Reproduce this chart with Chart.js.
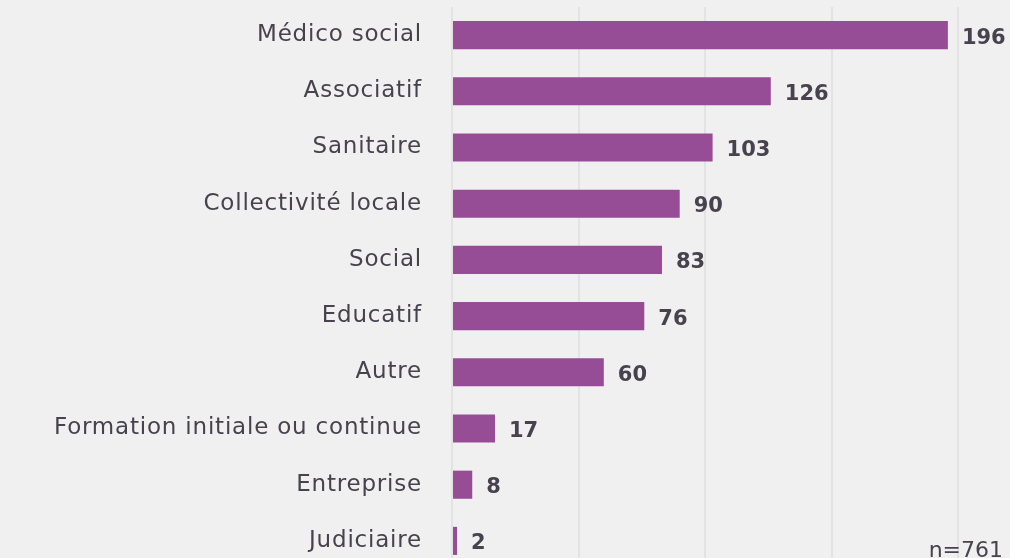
<!DOCTYPE html>
<html>
<head>
<meta charset="utf-8">
<script src="https://cdn.jsdelivr.net/npm/chart.js@4"></script>
<style>
  html, body { margin: 0; padding: 0; background: #f0f0f0; overflow: hidden; }
  #wrap { width: 1010px; height: 558px; overflow: hidden; }
</style>
</head>
<body>
<div id="wrap"><canvas id="chart" width="1010" height="570"></canvas></div>
<script>
// secteurs d'activité
const categories = [
    'Médico social', 'Associatif', 'Sanitaire', 'Collectivité locale', 'Social',
    'Educatif', 'Autre', 'Formation initiale ou continue', 'Entreprise', 'Judiciaire'
];
const counts = [196, 126, 103, 90, 83, 76, 60, 17, 8, 2];
const totalLabel = 'n=761';

const textColor = '#48424f';
const fontFamily = '"DejaVu Sans", sans-serif';

// police de référence plus large : on espace un peu les lettres
const spacing = {
    id: 'spacing',
    beforeDraw: (chart) => { chart.ctx.letterSpacing = '0.8px'; }
};

const valueLabels = {
    id: 'valueLabels',
    afterDatasetsDraw: (chart) => {
        const ctx = chart.ctx;
        const meta = chart.getDatasetMeta(0);
        ctx.save();
        ctx.letterSpacing = '0px';
        ctx.fillStyle = textColor;
        ctx.font = 'bold 21px ' + fontFamily;
        ctx.textAlign = 'left';
        ctx.textBaseline = 'middle';
        meta.data.forEach((bar, i) => {
            ctx.fillText(String(counts[i]), bar.x + 14, bar.y + 3);
        });
        // effectif total en bas à droite
        ctx.font = '22px ' + fontFamily;
        ctx.textAlign = 'right';
        ctx.textBaseline = 'alphabetic';
        ctx.fillText(totalLabel, 1003, 557);
        ctx.restore();
    }
};

const ctx = document.getElementById('chart').getContext('2d');
new Chart(ctx, {
    type: 'bar',
    data: {
        labels: categories,
        datasets: [{
            data: counts,
            backgroundColor: '#974c96',
            barPercentage: 0.5,
            categoryPercentage: 1
        }]
    },
    options: {
        indexAxis: 'y',
        responsive: false,
        animation: false,
        layout: { padding: { top: 7, right: 52, bottom: 1, left: 0 } },
        plugins: {
            legend: { display: false },
            tooltip: { enabled: false }
        },
        scales: {
            x: {
                min: 0,
                max: 200,
                ticks: { display: false, stepSize: 50 },
                border: { display: false },
                grid: { color: '#e2e2e7', lineWidth: 2, drawTicks: false },
                afterFit: s => { s.height = 0; s.paddingLeft = 0; s.paddingRight = 0; }
            },
            y: {
                ticks: {
                    color: textColor,
                    font: { family: fontFamily, size: 23 },
                    padding: 30
                },
                border: { display: false },
                grid: { display: false, drawTicks: false },
                afterFit: s => { s.width = 452; s.paddingTop = 0; s.paddingBottom = 0; }
            }
        }
    },
    plugins: [spacing, valueLabels]
});
</script>
</body>
</html>
